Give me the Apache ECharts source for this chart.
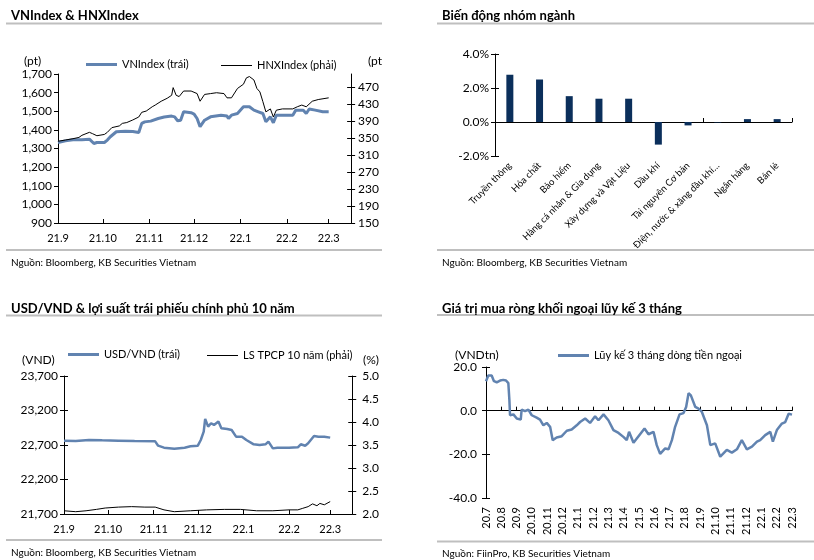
<!DOCTYPE html>
<html>
<head>
<meta charset="utf-8">
<script src="https://cdn.jsdelivr.net/npm/echarts@6/dist/echarts.min.js"></script>
<style>
html,body{margin:0;padding:0;background:#fff;width:814px;height:560px;overflow:hidden;position:relative;}
.p{position:absolute;}
</style>
</head>
<body>
<div id="p1" class="p" style="left:0;top:0;width:382px;height:280px;"></div>
<div id="p2" class="p" style="left:407px;top:0;width:407px;height:280px;"></div>
<div id="p3" class="p" style="left:0;top:280px;width:382px;height:280px;"></div>
<div id="p4" class="p" style="left:407px;top:280px;width:407px;height:280px;"></div>
<script>
// ---------- Data ----------
// Panel 1: day offsets from 2021-09-01
const vnDays = [0,5,10,16,21,24,26,31,33,35,39,45,50,54,56,58,62,67,71,76,78,80,82,84,89,91,93,95,98,102,109,113,114,116,120,124,128,131,134,137,139,142,144,146,150,157,159,164,166,168,172,177,181];
const vnValues = [1332,1341,1347,1347,1350,1327,1332,1332,1345,1363,1390,1393,1391,1386,1435,1443,1447,1461,1469,1474,1470,1449,1452,1497,1492,1485,1461,1417,1452,1470,1479,1474,1461,1479,1488,1524,1524,1506,1497,1488,1443,1470,1438,1479,1479,1479,1506,1506,1488,1512,1506,1497,1497];
const hnxDays = [0,5,10,14,16,21,23,26,31,33,36,41,43,46,50,54,56,59,63,65,69,73,76,77,79,81,84,89,93,95,98,102,106,111,113,116,120,124,126,128,131,133,135,137,139,142,144,146,150,157,160,163,166,170,174,181];
const hnxValues = [342,345,348,351,356,363,360,355,358,363,374,378,384,386,392,399,410,413,423,427,436,443,450,468,450,447,460,460,454,436,452,454,456,454,444,444,466,476,491,494,486,466,458,435,411,418,399,415,418,418,423,427,423,436,440,444];
const monthTickDays = [0,30,61,91,122,153,181];
const monthTickLabels = ['21.9','21.10','21.11','21.12','22.1','22.2','22.3'];
const hnxTicks = [150,190,230,270,310,350,390,430,470];

// Panel 2
const sectorNames = ['Truyền thông','Hóa chất','Bảo hiểm','Hàng cá nhân & Gia dụng','Xây dựng và Vật Liệu','Dầu khí','Tài nguyên Cơ bản','Điện, nước & xăng dầu khí…','Ngân hàng','Bán lẻ'];
const sectorValues = [2.78,2.5,1.52,1.37,1.37,-1.33,-0.2,-0.03,0.17,0.17];

// Panel 3
const usdDays = [0,8,17,26,37,48,62,64,68,75,82,86,91,93,95,96,98,100,102,105,107,111,114,117,121,124,129,133,137,139,142,145,153,159,161,164,166,170,173,177,181];
const usdValues = [22763,22758,22773,22768,22763,22758,22753,22690,22661,22647,22661,22681,22690,22773,22894,23078,22967,23015,22991,23040,22943,22933,22918,22821,22821,22773,22710,22700,22710,22749,22651,22661,22661,22666,22710,22690,22724,22831,22821,22821,22807];
const bondDays = [0,8,15,22,28,37,46,55,62,68,75,86,97,109,120,131,142,153,159,162,166,169,172,174,177,181];
const bondValues = [2.07,2.05,2.07,2.10,2.13,2.15,2.16,2.15,2.15,2.09,2.05,2.07,2.09,2.10,2.10,2.07,2.07,2.09,2.09,2.12,2.16,2.22,2.18,2.23,2.20,2.27];

// Panel 4: month offsets from 2020-07
const flowMonths = [0,0.15,0.37,0.52,0.70,0.92,1.13,1.31,1.46,1.53,1.57,1.79,2.01,2.27,2.33,2.55,2.77,2.99,3.31,3.53,3.75,3.97,4.19,4.36,4.62,4.95,5.28,5.60,5.93,6.15,6.48,6.80,7.13,7.35,7.68,8.00,8.33,8.66,8.98,9.20,9.35,9.64,10.07,10.36,10.62,10.95,11.16,11.38,11.71,11.93,12.15,12.36,12.65,12.91,13.08,13.24,13.39,13.68,13.89,14.11,14.44,14.66,14.98,15.31,15.74,16.07,16.40,16.72,17.05,17.38,17.71,17.92,18.25,18.58,18.75,19.01,19.34,19.56,19.78,20.0];
const flowValues = [13.5,16.1,16.1,13.5,13.0,13.8,14.1,13.8,12.6,4.7,-2.1,-1.7,-3.6,-4.1,0.5,-0.2,0.5,-2.1,-3.2,-4.1,-6.7,-5.6,-7.4,-13.5,-12.3,-11.7,-9.2,-8.6,-6.7,-5.2,-3.6,-5.6,-2.6,-4.4,-1.7,-4.4,-8.9,-10.2,-12.0,-13.5,-9.7,-14.7,-10.8,-8.2,-10.8,-9.7,-15.8,-19.8,-17.3,-17.7,-13.5,-7.4,-1.7,-1.1,1.7,8.0,7.0,1.7,0.9,-0.6,-6.7,-15.8,-15.0,-21.1,-18.0,-19.2,-17.7,-13.5,-17.7,-16.5,-14.2,-13.5,-11.2,-9.7,-14.2,-8.9,-5.9,-5.2,-1.4,-1.8];
const flowTickLabels = ['20.7','20.8','20.9','20.10','20.11','20.12','21.1','21.2','21.3','21.4','21.5','21.6','21.7','21.8','21.9','21.10','21.11','21.12','22.1','22.2','22.3'];

// ---------- Style ----------
const FONT = 'Lato';
const BLUE = '#6183b0';
const NAVY = '#0b2f5b';
const RULE = '#bfbfbf';
const YFS = 12;
const pairs = (xs, ys) => xs.map((x, i) => [x, ys[i]]);
const comma = v => String(Math.round(v)).replace(/\B(?=(\d{3})+(?!\d))/g, ',');

function rule(x1, x2, y) {
  return {type:'line', shape:{x1:x1, y1:y, x2:x2, y2:y}, style:{stroke:RULE, lineWidth:2}, silent:true};
}
function txt(x, y, s, fs) {
  return {type:'text', left:x, top:y, style:{text:s, font:(fs || 11) + 'px ' + FONT, fill:'#000'}, silent:true};
}
const axisLineBlack = {show:true, onZero:false, lineStyle:{color:'#000', width:1}};
const tickBlack = {show:true, lineStyle:{color:'#000', width:1}, length:4};
const lbl = (extra) => Object.assign({color:'#000', fontSize:11, fontFamily:FONT}, extra);

// an extra, label-less axis drawing inward ticks so the ticks cross the axis line
function crossY(min, max, position, extra) {
  return Object.assign({type:'value', min:min, max:max, position:position,
    axisLine:{show:false, onZero:false},
    axisTick:{show:true, inside:true, length:4, lineStyle:{color:'#000'}},
    axisLabel:{show:false}, splitLine:{show:false}}, extra || {});
}

function titles(t, src, left, ty, sy) {
  return [
    {text:t, left:left, top:ty, textStyle:{fontSize:13, fontWeight:'bold', color:'#000', fontFamily:FONT}},
    {text:src, left:left, top:sy, textStyle:{fontSize:10, fontWeight:'normal', color:'#000', fontFamily:FONT}}
  ];
}
function legendAt(x, y, name, h) {
  return {left:x, top:y, data:[name], icon:'rect', itemWidth:31, itemHeight:h, itemGap:0,
          textStyle:{fontSize:11, color:'#000', fontFamily:FONT}, selectedMode:false};
}

// ---------- Panel 1 ----------
const c1 = echarts.init(document.getElementById('p1'));
c1.setOption({
  animation:false,
  textStyle:{fontFamily:FONT},
  title:titles('VNIndex & HNXIndex', 'Nguồn: Bloomberg, KB Securities Vietnam', 6, 4, 253),
  graphic:[rule(6, 382, 23.5), rule(6, 382, 250), txt(24, 55, '(pt)', 12), txt(368, 55, '(pt)', 12)],
  legend:[legendAt(81, 54, 'VNIndex (trái)', 3), legendAt(216, 55, 'HNXIndex (phải)', 1)],
  grid:{left:58, right:26, top:74, bottom:57},
  xAxis:{type:'value', min:0, max:196,
    axisLine:axisLineBlack,
    axisTick:Object.assign({}, tickBlack, {inside:true, customValues:monthTickDays}),
    axisLabel:lbl({customValues:monthTickDays, margin:10, formatter:v => monthTickLabels[monthTickDays.indexOf(v)]}),
    splitLine:{show:false}},
  yAxis:[
    {type:'value', min:900, max:1700, interval:100, axisLine:axisLineBlack, axisTick:tickBlack,
     axisLabel:lbl({formatter:comma, margin:6, fontSize:YFS}), splitLine:{show:false}},
    {type:'value', min:150, max:500, position:'right', axisLine:axisLineBlack,
     axisTick:Object.assign({}, tickBlack, {customValues:hnxTicks}),
     axisLabel:lbl({customValues:hnxTicks, margin:7, fontSize:YFS}), splitLine:{show:false}},
    crossY(150, 500, 'right', {axisTick:{show:true, inside:true, length:4, customValues:hnxTicks, lineStyle:{color:'#000'}}})
  ],
  series:[
    {type:'line', name:'VNIndex (trái)', yAxisIndex:0, data:pairs(vnDays, vnValues), symbol:'none', showSymbol:false,
     lineStyle:{width:3, color:BLUE}, itemStyle:{color:BLUE}},
    {type:'line', name:'HNXIndex (phải)', yAxisIndex:1, data:pairs(hnxDays, hnxValues), symbol:'none', showSymbol:false,
     lineStyle:{width:1, color:'#000'}, itemStyle:{color:'#000'}}
  ]
});

// ---------- Panel 2 ----------
const c2 = echarts.init(document.getElementById('p2'));
c2.setOption({
  animation:false,
  textStyle:{fontFamily:FONT},
  title:titles('Biến động nhóm ngành', 'Nguồn: Bloomberg, KB Securities Vietnam', 30, 4, 253),
  graphic:[rule(30, 407, 23.5), rule(30, 407, 250)],
  grid:{left:88, right:22, top:54, bottom:124},
  xAxis:[
    {type:'category', data:sectorNames, axisLine:{show:true, onZero:true, lineStyle:{color:'#000'}},
     axisTick:{show:true, inside:true, length:4, lineStyle:{color:'#000'}}, axisLabel:{show:false}},
    {type:'category', data:sectorNames, position:'bottom', axisLine:{show:false, onZero:false},
     axisTick:{show:false}, axisLabel:lbl({rotate:45, fontSize:9.5, margin:8, interval:0})}
  ],
  yAxis:[
    {type:'value', min:-2, max:4, interval:2, axisLine:axisLineBlack, axisTick:tickBlack,
     axisLabel:lbl({formatter:v => v.toFixed(1) + '%', margin:6, fontSize:YFS}), splitLine:{show:false}},
    crossY(-2, 4, 'left', {interval:2})
  ],
  series:[{type:'bar', xAxisIndex:0, yAxisIndex:0, data:sectorValues, barWidth:7, itemStyle:{color:NAVY}}]
});

// ---------- Panel 3 ----------
const c3 = echarts.init(document.getElementById('p3'));
c3.setOption({
  animation:false,
  textStyle:{fontFamily:FONT},
  title:titles('USD/VND & lợi suất trái phiếu chính phủ 10 năm', 'Nguồn: Bloomberg, KB Securities Vietnam', 6, 17, 263),
  graphic:[rule(6, 382, 35.5), rule(6, 382, 260), txt(22, 74, '(VND)', 12), txt(363, 74, '(%)', 12)],
  legend:[legendAt(63, 64, 'USD/VND (trái)', 3), legendAt(202, 65, 'LS TPCP 10 năm (phải)', 1)],
  grid:{left:64, right:25, top:96, bottom:46},
  xAxis:{type:'value', min:0, max:196,
    axisLine:axisLineBlack,
    axisTick:Object.assign({}, tickBlack, {inside:true, customValues:monthTickDays}),
    axisLabel:lbl({customValues:monthTickDays, margin:10, formatter:v => monthTickLabels[monthTickDays.indexOf(v)]}),
    splitLine:{show:false}},
  yAxis:[
    {type:'value', min:21700, max:23700, interval:500, axisLine:axisLineBlack, axisTick:tickBlack,
     axisLabel:lbl({formatter:comma, margin:6, fontSize:YFS}), splitLine:{show:false}},
    {type:'value', min:2, max:5, interval:0.5, position:'right', axisLine:axisLineBlack, axisTick:tickBlack,
     axisLabel:lbl({formatter:v => v.toFixed(1), margin:10, fontSize:YFS}), splitLine:{show:false}},
    crossY(21700, 23700, 'left', {interval:500}),
    crossY(2, 5, 'right', {interval:0.5})
  ],
  series:[
    {type:'line', name:'USD/VND (trái)', yAxisIndex:0, data:pairs(usdDays, usdValues), symbol:'none', showSymbol:false,
     lineStyle:{width:2.5, color:BLUE}, itemStyle:{color:BLUE}},
    {type:'line', name:'LS TPCP 10 năm (phải)', yAxisIndex:1, data:pairs(bondDays, bondValues), symbol:'none', showSymbol:false,
     lineStyle:{width:1, color:'#000'}, itemStyle:{color:'#000'}}
  ]
});

// ---------- Panel 4 ----------
const c4 = echarts.init(document.getElementById('p4'));
c4.setOption({
  animation:false,
  textStyle:{fontFamily:FONT},
  title:titles('Giá trị mua ròng khối ngoại lũy kế 3 tháng', 'Nguồn: FiinPro, KB Securities Vietnam', 30, 17, 264),
  graphic:[rule(30, 407, 35), rule(30, 407, 261.5), txt(48, 69, '(VNDtn)', 12)],
  legend:[legendAt(146, 65, 'Lũy kế 3 tháng dòng tiền ngoại', 3)],
  grid:{left:79, right:22, top:87, bottom:62},
  xAxis:[
    {type:'value', min:0, max:20, interval:1, axisLine:{show:true, onZero:true, lineStyle:{color:'#000'}},
     axisTick:{show:true, inside:true, length:4, lineStyle:{color:'#000'}}, axisLabel:{show:false}, splitLine:{show:false}},
    {type:'value', min:0, max:20, interval:1, position:'bottom', axisLine:{show:false, onZero:false},
     axisTick:{show:false}, axisLabel:lbl({rotate:90, margin:9, formatter:v => flowTickLabels[v]}), splitLine:{show:false}}
  ],
  yAxis:[
    {type:'value', min:-40, max:20, interval:20, axisLine:axisLineBlack, axisTick:tickBlack,
     axisLabel:lbl({formatter:v => v.toFixed(1), margin:9, fontSize:YFS}), splitLine:{show:false}},
    crossY(-40, 20, 'left', {interval:20})
  ],
  series:[{type:'line', name:'Lũy kế 3 tháng dòng tiền ngoại', xAxisIndex:0, yAxisIndex:0, data:pairs(flowMonths, flowValues),
    symbol:'none', showSymbol:false, lineStyle:{width:2.5, color:BLUE}, itemStyle:{color:BLUE}}]
});
</script>
</body>
</html>
